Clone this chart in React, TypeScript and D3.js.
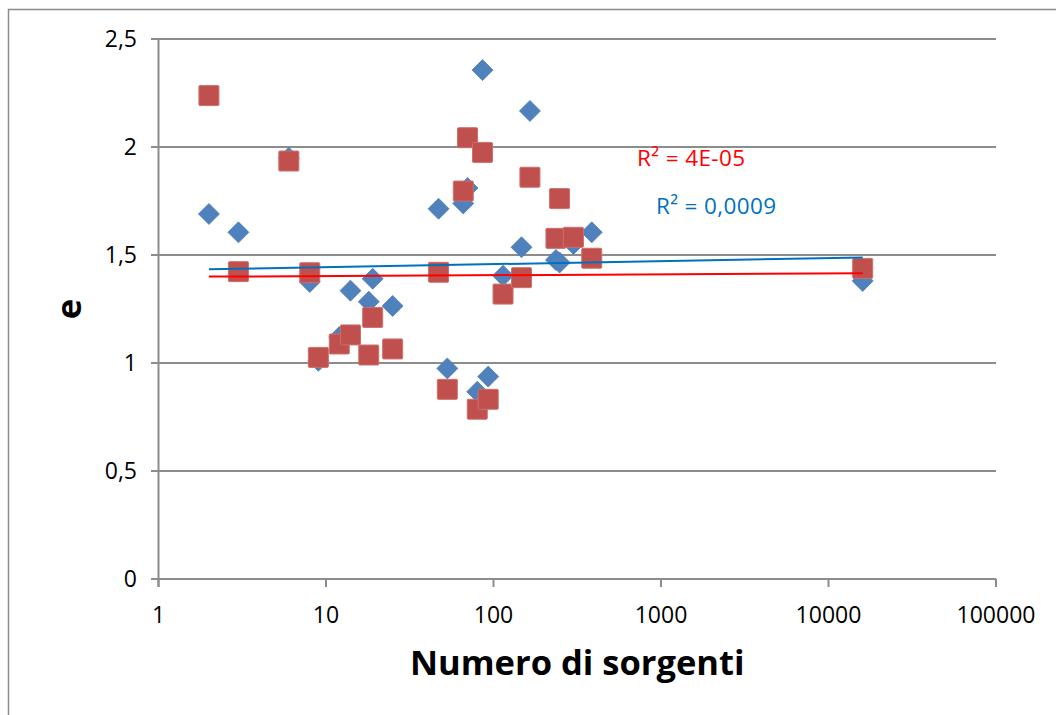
import React from "react";
import * as d3 from "d3";

// Number of sources (shared x values of both series)
const sources = [2, 3, 6, 8, 9, 12, 14, 18, 19, 25, 47, 53, 66, 70, 80, 86, 93, 114, 147, 165, 236, 248, 300, 386, 16000];
// Blue diamonds
const eBlue = [1.69, 1.605, 1.95, 1.375, 1.01, 1.12, 1.335, 1.284, 1.39, 1.264, 1.714, 0.975, 1.739, 1.81, 0.867, 2.356, 0.937, 1.404, 1.536, 2.167, 1.477, 1.465, 1.551, 1.605, 1.38];
// Red squares
const eRed = [2.238, 1.423, 1.935, 1.418, 1.026, 1.088, 1.13, 1.037, 1.211, 1.065, 1.42, 0.878, 1.796, 2.043, 0.786, 1.975, 0.832, 1.319, 1.395, 1.86, 1.577, 1.761, 1.582, 1.485, 1.438];

const yTicks = [0, 0.5, 1, 1.5, 2, 2.5];
const xTicks = [1, 10, 100, 1000, 10000, 100000];

// Logarithmic trendlines e = a + b*ln(x)
const trendBlue = { a: 1.43, b: 0.006, label: "R² = 0,0009" };
const trendRed = { a: 1.3988, b: 0.00167, label: "R² = 4E-05" };

const FONT = "'Open Sans', 'Noto Sans', sans-serif";

export default function App() {
  const W = 1056;
  const H = 715;
  const x = d3.scaleLog().domain([1, 100000]).range([158.5, 996]);
  const y = d3.scaleLinear().domain([0, 2.5]).range([579, 39]);
  const fmt = (v: number) => String(v).replace(".", ",");
  const [x0, x1] = d3.extent(sources) as [number, number];
  const trendPath = (t: { a: number; b: number }) =>
    d3
      .line<number>()
      .x((d) => x(d))
      .y((d) => y(t.a + t.b * Math.log(d)))([x0, x1]) as string;

  const gridColor = "#8c8c8c";

  return (
    <svg
      width={W}
      height={H}
      style={{ position: "absolute", left: 0, top: 0, background: "#fff" }}
      fontFamily={FONT}
    >
      {/* chart area border */}
      <path d={`M8.5,${H + 5} L8.5,9.5 L${W + 5},9.5`} fill="none" stroke={gridColor} strokeWidth={1.5} />

      {/* horizontal gridlines */}
      {yTicks.map((t) => (
        <line key={"g" + t} x1={151} x2={996} y1={y(t)} y2={y(t)} stroke={gridColor} strokeWidth={2} />
      ))}
      {/* y axis */}
      <line x1={x(1)} x2={x(1)} y1={y(2.5)} y2={y(0) + 8} stroke={gridColor} strokeWidth={2} />
      {/* x ticks */}
      {xTicks.map((t) => (
        <line key={"xt" + t} x1={x(t)} x2={x(t)} y1={y(0)} y2={y(0) + 8} stroke={gridColor} strokeWidth={2} />
      ))}

      {/* y tick labels */}
      {yTicks.map((t) => (
        <text key={"yl" + t} x={137} y={y(t)} dy="0.36em" textAnchor="end" fontSize={23} fill="#000">
          {fmt(t)}
        </text>
      ))}
      {/* x tick labels */}
      {xTicks.map((t) => (
        <text key={"xl" + t} x={x(t)} y={623} textAnchor="middle" fontSize={23} fill="#000">
          {String(t)}
        </text>
      ))}

      {/* axis titles */}
      <text x={x(Math.sqrt(100000))} y={675} textAnchor="middle" fontSize={34.5} fontWeight="bold" fill="#000">
        Numero di sorgenti
      </text>
      <text
        transform={`translate(81,${(y(0) + y(2.5)) / 2}) rotate(-90)`}
        textAnchor="middle"
        fontSize={34.5}
        fontWeight="bold"
        fill="#000"
      >
        e
      </text>

      {/* blue diamonds */}
      {sources.map((s, i) => {
        const cx = x(s);
        const cy = y(eBlue[i]);
        return (
          <path
            key={"b" + i}
            d={`M${cx},${cy - 10.5} L${cx + 10.5},${cy} L${cx},${cy + 10.5} L${cx - 10.5},${cy} Z`}
            fill="#4F81BD"
            stroke="#4a7ab4"
            strokeWidth={0.75}
          />
        );
      })}
      {/* red squares */}
      {sources.map((s, i) => (
        <rect
          key={"r" + i}
          x={x(s) - 10}
          y={y(eRed[i]) - 10}
          width={20}
          height={20}
          rx={1}
          fill="#C0504D"
          stroke="#cd6f6c"
          strokeWidth={1}
        />
      ))}

      {/* trendlines */}
      <path d={trendPath(trendBlue)} fill="none" stroke="#0070C0" strokeWidth={2} />
      <path d={trendPath(trendRed)} fill="none" stroke="#FF0000" strokeWidth={2} />

      {/* R² labels */}
      <text x={637} y={166} fontSize={22.5} fill="#FF0000" textLength={108} lengthAdjust="spacing">
        {trendRed.label}
      </text>
      <text x={656} y={214} fontSize={22.5} fill="#0070C0" textLength={120} lengthAdjust="spacing">
        {trendBlue.label}
      </text>
    </svg>
  );
}
